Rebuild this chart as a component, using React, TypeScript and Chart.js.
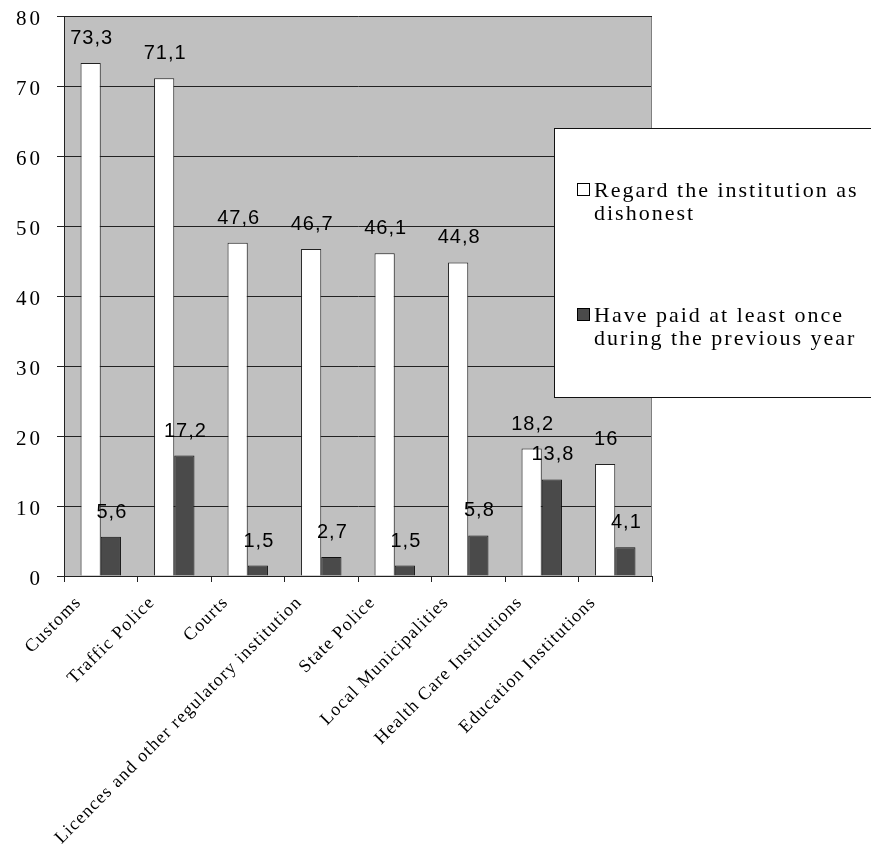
import React, { useEffect, useRef } from 'react';
import { Chart, registerables } from 'chart.js';

Chart.register(...registerables);

const categories = [
  'Customs',
  'Traffic Police',
  'Courts',
  'Licences and other regulatory institution',
  'State Police',
  'Local Municipalities',
  'Health Care Institutions',
  'Education Institutions',
];
const seriesNames = [
  'Regard the institution as dishonest',
  'Have paid at least once during the previous year',
];
const regardDishonest = [73.3, 71.1, 47.6, 46.7, 46.1, 44.8, 18.2, 16];
const paidOnce = [5.6, 17.2, 1.5, 2.7, 1.5, 5.8, 13.8, 4.1];
const yMin = 0;
const yMax = 80;
const yStep = 10;

const W = 871;
const H = 847;
const SERIF = '"Liberation Serif", "Times New Roman", serif';
const SANS = '"Liberation Sans", Arial, sans-serif';

const fmt = (v: number) => String(v).replace('.', ',');

function patchLabels(s: any, spacing: string) {
  if (s.__patched) return;
  const orig = s.drawLabels.bind(s);
  s.drawLabels = (ca: any) => {
    const ctx = s.ctx;
    ctx.save();
    ctx.letterSpacing = spacing;
    orig(ca);
    ctx.restore();
  };
  s.__patched = true;
}

const bgPlugin = {
  id: 'bgPlugin',
  beforeDraw(chart: any) {
    const { ctx, chartArea: a } = chart;
    ctx.save();
    ctx.fillStyle = '#ffffff';
    ctx.fillRect(0, 0, chart.width, chart.height);
    ctx.fillStyle = '#c0c0c0';
    ctx.fillRect(a.left, a.top, a.right - a.left, a.bottom - a.top);
    ctx.restore();
  },
  beforeDatasetsDraw(chart: any) {
    const { ctx, chartArea: a } = chart;
    ctx.save();
    ctx.strokeStyle = '#808080';
    ctx.lineWidth = 1;
    const x = Math.round(a.right) - 0.5;
    ctx.beginPath();
    ctx.moveTo(x, a.top + 1);
    ctx.lineTo(x, a.bottom);
    ctx.stroke();
    ctx.restore();
  },
};

const labelPlugin = {
  id: 'labelPlugin',
  afterDatasetsDraw(chart: any) {
    const { ctx } = chart;
    ctx.save();
    ctx.font = `20px ${SANS}`;
    ctx.letterSpacing = '1px';
    ctx.fillStyle = '#000';
    ctx.textAlign = 'center';
    ctx.textBaseline = 'alphabetic';
    chart.data.datasets.forEach((ds: any, i: number) => {
      const meta = chart.getDatasetMeta(i);
      meta.data.forEach((bar: any, j: number) => {
        ctx.fillText(fmt(ds.data[j]), bar.x + 1, bar.y - 19);
      });
    });
    ctx.restore();
  },
};

function wrap(ctx: CanvasRenderingContext2D, text: string, maxW: number) {
  const words = text.split(' ');
  const lines: string[] = [];
  let cur = '';
  for (const w of words) {
    const test = cur ? cur + ' ' + w : w;
    if (cur && ctx.measureText(test).width > maxW) {
      lines.push(cur);
      cur = w;
    } else cur = test;
  }
  if (cur) lines.push(cur);
  return lines;
}

const legendPlugin = {
  id: 'legendPlugin',
  afterDraw(chart: any) {
    const { ctx, chartArea: a } = chart;
    const boxL = a.right - 98;
    const boxT = a.top + 112;
    const boxB = a.top + 381;
    ctx.save();
    ctx.fillStyle = '#ffffff';
    ctx.fillRect(boxL, boxT, chart.width - boxL + 5, boxB - boxT);
    ctx.strokeStyle = '#111';
    ctx.lineWidth = 1;
    ctx.strokeRect(boxL + 0.5, boxT + 0.5, chart.width - boxL + 5, boxB - boxT);
    ctx.font = `22px ${SERIF}`;
    ctx.letterSpacing = '2px';
    ctx.fillStyle = '#000';
    ctx.textAlign = 'left';
    ctx.textBaseline = 'alphabetic';
    const textX = boxL + 40;
    chart.data.datasets.forEach((ds: any, i: number) => {
      const base = boxT + 69 + i * 125;
      ctx.save();
      ctx.fillStyle = ds.backgroundColor;
      ctx.fillRect(boxL + 23, base - 14, 13, 13);
      ctx.strokeStyle = '#000';
      ctx.strokeRect(boxL + 23.5, base - 13.5, 12, 12);
      ctx.restore();
      const lines = wrap(ctx, ds.label, chart.width - textX - 2);
      lines.forEach((ln, k) => ctx.fillText(ln, textX, base + k * 23));
    });
    ctx.restore();
  },
};

export default function App() {
  const ref = useRef<HTMLCanvasElement | null>(null);
  useEffect(() => {
    if (!ref.current) return;
    const chart = new Chart(ref.current, {
      type: 'bar',
      data: {
        labels: categories,
        datasets: [
          {
            label: seriesNames[0],
            data: regardDishonest,
            backgroundColor: '#ffffff',
            borderColor: '#222222',
            borderWidth: 1,
            categoryPercentage: 0.55,
            barPercentage: 1,
          },
          {
            label: seriesNames[1],
            data: paidOnce,
            backgroundColor: '#4a4a4a',
            borderColor: '#111111',
            borderWidth: 1,
            categoryPercentage: 0.55,
            barPercentage: 1,
          },
        ],
      },
      options: {
        responsive: false,
        animation: false,
        devicePixelRatio: 1,
        layout: { padding: { top: 16, right: 219, left: 0, bottom: 0 } },
        plugins: {
          legend: { display: false },
          tooltip: { enabled: false },
        },
        scales: {
          x: {
            grid: {
              drawOnChartArea: false,
              drawTicks: true,
              tickLength: 6,
              color: '#222',
              offset: true,
            },
            border: { display: true, color: '#222' },
            ticks: {
              maxRotation: 45,
              minRotation: 45,
              autoSkip: false,
              font: { family: SERIF, size: 18 },
              color: '#000',
              padding: 10,
              labelOffset: -22,
            },
            afterFit: (s: any) => {
              s.height = 271;
              s.paddingLeft = 0;
              s.paddingRight = 0;
              patchLabels(s, '1.2px');
            },
          },
          y: {
            min: yMin,
            max: yMax,
            grid: { color: '#222', tickLength: 7, drawTicks: true },
            border: { display: true, color: '#222' },
            ticks: {
              stepSize: yStep,
              font: { family: SERIF, size: 21 },
              color: '#000',
              padding: 14,
              labelOffset: 3,
            },
            afterFit: (s: any) => {
              s.width = 64;
              s.paddingTop = 0;
              s.paddingBottom = 0;
              patchLabels(s, '3px');
            },
          },
        },
      },
      plugins: [bgPlugin, labelPlugin, legendPlugin],
    });
    return () => chart.destroy();
  }, []);
  return (
    <div style={{ position: 'absolute', left: 0, top: 0, width: W, height: H }}>
      <canvas ref={ref} width={W} height={H} style={{ width: W, height: H, display: 'block' }} />
    </div>
  );
}
